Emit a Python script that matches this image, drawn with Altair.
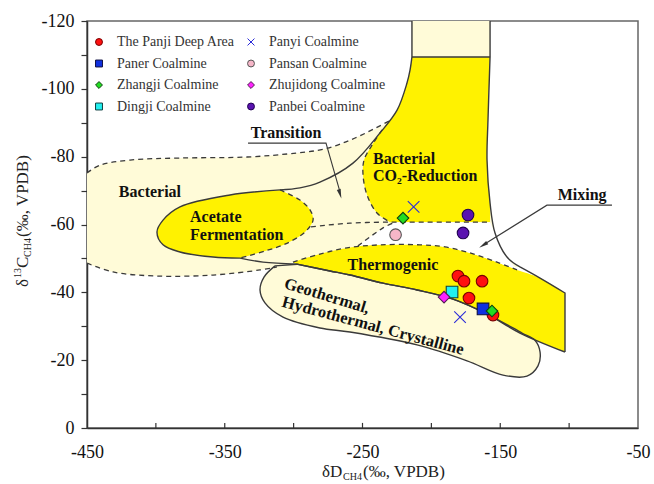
import altair as alt
import pandas as pd

# ---------------------------------------------------------------- axes
X_DOMAIN = [-450, -50]
Y_DOMAIN = [-120, 0]
X_TICKS = list(range(-450, -49, 50))
Y_TICKS = list(range(-120, 1, 10))
X_INNER_TICKS = list(range(-400, -99, 50))

# ---------------------------------------------------------------- samples (dD, d13C)
# legend fills column by column: left column first, then right column
SERIES = [
    "The Panji Deep Area", "Paner Coalmine", "Zhangji Coalmine", "Dingji Coalmine",
    "Panyi Coalmine", "Pansan Coalmine", "Zhujidong Coalmine", "Panbei Coalmine",
]
FILLS = ["#ff1010", "#1030e0", "#22dd22", "#22f0f0", "#2b2bd8", "#f6b6c8", "#ff22ff", "#5a12b0"]
STROKES = ["#7a0000", "#101040", "#104010", "#104040", "#2b2bd8", "#555555", "#502050", "#200050"]
SHAPES = ["circle", "square", "diamond", "square", "M-1,-1L1,1M1,-1L-1,1", "circle", "diamond", "circle"]

panji_dD = [-180.7, -176.3, -163.2, -172.7, -155.3]
panji_c13 = [-44.8, -43.3, -43.3, -38.3, -33.3]
paner_dD = [-162.5]
paner_c13 = [-35.1]
zhangji_dD = [-220.6, -156.0]
zhangji_c13 = [-61.9, -34.5]
dingji_dD = [-185.0]
dingji_c13 = [-40.1]
panyi_dD = [-212.9, -179.2]
panyi_c13 = [-65.2, -32.7]
pansan_dD = [-226.0]
pansan_c13 = [-57.0]
zhujidong_dD = [-190.8]
zhujidong_c13 = [-38.6]
panbei_dD = [-173.4, -177.0]
panbei_c13 = [-62.8, -57.5]

# ---------------------------------------------------------------- genetic fields (dD, d13C)
bacterial_top = [(-450, -75.2), (-440.6, -77.5), (-418.8, -79.0), (-382.5, -79.6), (-333.8, -79.9),
                 (-297.5, -81.1), (-277.2, -82.3), (-255.4, -85.5), (-230.8, -90.5)]
bacterial_bottom = [(-450, -48.6), (-431.1, -46.0), (-399.2, -44.8), (-358.5, -45.1),
                    (-324.4, -46.6), (-312.1, -47.5)]
upper_curve = [(-214.1, -120), (-214.1, -109.4), (-215.5, -105.5), (-217.7, -101.7), (-224.9, -93.7),
               (-237.3, -87.0), (-256.9, -78.1), (-280.9, -72.5), (-295.4, -70.8), (-309.9, -70.2)]
acetate_solid = [(-309.9, -70.2), (-346.2, -68.7), (-382.5, -65.2), (-394.8, -61.3), (-399.2, -57.8),
                 (-394.8, -54.0), (-382.5, -51.9), (-358.5, -50.4), (-338.9, -50.1)]
acetate_dashed = [(-309.9, -70.2), (-295.4, -67.2), (-288.1, -64.3), (-285.9, -61.3), (-291.7, -57.8),
                  (-306.3, -54.2), (-320.8, -52.2), (-338.9, -50.1)]
main_line = [(-338.9, -50.1), (-322.2, -48.9), (-297.5, -48.3), (-273.6, -46.3), (-259.1, -45.1),
             (-235.1, -42.7), (-210.4, -40.7), (-184.3, -38.0), (-159.6, -33.6), (-135.7, -28.0),
             (-103.0, -22.4)]
right_line = [(-157.4, -120), (-157.4, -109.4), (-158.9, -90.8), (-159.6, -79.0), (-157.4, -66.3),
              (-153.8, -57.5), (-145.1, -50.4), (-135.7, -47.5), (-121.1, -44.2), (-103.0, -39.8),
              (-103.0, -22.4)]
box_floor = [(-214.1, -109.4), (-157.4, -109.4)]
co2_left = [(-235.8, -87.9), (-243.1, -83.4), (-248.9, -79.0), (-249.6, -74.6), (-246.7, -68.7),
            (-239.5, -63.4), (-230.0, -60.7)]
transition_floor = [(-287.4, -59.3), (-259.1, -60.4), (-230.0, -60.7), (-157.4, -60.7)]
mixing_edge = [(-253.3, -53.7), (-235.1, -59.0), (-226.4, -60.7)]
thermo_top = [(-300.5, -48.9), (-280.9, -51.3), (-261.3, -53.1), (-237.3, -54.0), (-208.3, -54.0),
              (-190.1, -53.4), (-171.9, -51.6), (-152.4, -48.9), (-137.8, -46.6)]
geo_outline = [(-313.5, -47.8), (-321.5, -44.5), (-324.4, -40.7), (-320.8, -36.9), (-307.7, -32.7),
               (-280.9, -29.5), (-259.1, -28.3), (-210.4, -24.5), (-174.1, -19.8), (-148.0, -15.6),
               (-130.6, -15.3), (-122.6, -18.3), (-121.1, -22.4), (-124.8, -25.9), (-134.2, -28.0),
               (-159.6, -33.6), (-184.3, -38.0), (-210.4, -40.7), (-235.1, -42.7), (-259.1, -45.1),
               (-273.6, -46.3), (-297.5, -48.3), (-313.5, -47.8)]
mixing_band = [(-253.3, -53.7), (-235.1, -59.0), (-226.4, -60.7), (-157.4, -60.7), (-153.8, -57.5),
               (-145.1, -50.4), (-137.8, -46.6), (-152.4, -48.9), (-171.9, -51.6), (-190.1, -53.4),
               (-208.3, -54.0), (-237.3, -54.0), (-253.3, -53.7)]

# vertices where a boundary turns sharply instead of bending smoothly
corners = {(-450, -75.2), (-450, -48.6), (-214.1, -120), (-157.4, -120), (-214.1, -109.4),
           (-157.4, -109.4), (-157.4, -60.7), (-230.0, -60.7), (-226.4, -60.7), (-253.3, -53.7),
           (-137.8, -46.6), (-135.7, -47.5), (-300.5, -48.9), (-103.0, -39.8), (-103.0, -22.4),
           (-309.9, -70.2), (-338.9, -50.1), (-297.5, -48.3)}

transition_pointer = [(-333.1, -84.0), (-276.5, -84.0), (-266.6, -70.0)]
mixing_pointer = [(-68.9, -65.7), (-116.1, -65.7), (-161.0, -54.3)]
arrow_tips = [(-266.3, -69.0, 344), (-162.4, -53.9, 58)]

field_labels = [
    ("Transition", -305.5, -87.0, "center"),
    ("Bacterial", -404.3, -69.6, "center"),
    ("Acetate", -375.2, -62.2, "left"),
    ("Fermentation", -375.2, -56.9, "left"),
    ("Bacterial", -242.4, -79.3, "left"),
    ("CO\u2082-Reduction", -242.4, -74.3, "left"),
    ("Mixing", -90.6, -68.7, "center"),
    ("Thermogenic", -227.9, -48.1, "center"),
]
slanted_labels = [
    ("Geothermal,", -275.8, -38.9, 17),
    ("Hydrothermal, Crystalline", -242.4, -30.1, 15),
]

CREAM = "#fffbd8"
YELLOW = "#fff200"
LINE = "#3a3a3a"
SERIF = "Liberation Serif"
CURVE = "catmull-rom"

# ---------------------------------------------------------------- scales and axes
xs = alt.Scale(domain=X_DOMAIN, nice=False, zero=False)
ys = alt.Scale(domain=Y_DOMAIN, reverse=True, nice=False, zero=False)
x_axis = alt.Axis(values=X_TICKS, ticks=False, tickSize=0, grid=False, title=None,
                  labelExpr="(datum.value + 450) % 100 == 0 ? toString(datum.value) : ''",
                  labelPadding=15, labelFont=SERIF, labelFontSize=18, labelColor="#111",
                  domainColor="#333", domainWidth=1.5, labelFlush=False)
y_axis = alt.Axis(values=Y_TICKS, tickSize=6, tickColor="#333", tickWidth=1.2, grid=False, title=None,
                  labelExpr="datum.value % 20 == 0 ? toString(datum.value) : ''",
                  labelPadding=7, labelFont=SERIF, labelFontSize=18, labelColor="#111",
                  domainColor="#333", domainWidth=1.5)


def X(f="d"):
    return alt.X(f"{f}:Q", scale=xs, axis=x_axis, title=None)


def Y(f="c"):
    return alt.Y(f"{f}:Q", scale=ys, axis=y_axis, title=None)


def sharp(pts):
    """Repeat corner vertices so the smooth curve keeps a crisp angle there."""
    out = []
    for p in pts:
        out.append(p)
        if p in corners:
            out.append(p)
    return out


def path_df(segments):
    rows = []
    for name, pts in segments.items():
        for i, p in enumerate(sharp(pts)):
            rows.append({"seg": name, "i": i, "d": p[0], "c": p[1]})
    return pd.DataFrame(rows)


def fill_layer(pts, color):
    return alt.Chart(path_df({"a": pts})).mark_line(
        fill=color, strokeOpacity=0, interpolate=CURVE, clip=True
    ).encode(x=X(), y=Y(), order="i:Q")


def stroke_layer(segments, dashed, width=1.4, curve=CURVE):
    kw = dict(color=LINE, strokeWidth=width, interpolate=curve, clip=True)
    if dashed:
        kw["strokeDash"] = [5, 4]
    return alt.Chart(path_df(segments)).mark_line(**kw).encode(
        x=X(), y=Y(), detail="seg:N", order="i:Q")


# ---------------------------------------------------------------- filled fields
bacterial_area = (bacterial_top + [(-224.9, -93.7), (-217.7, -101.7), (-215.5, -105.5), (-214.1, -109.4),
                                   (-214.1, -120)] + right_line[:8]
                  + [(-300.5, -48.9)] + bacterial_bottom[::-1] + [bacterial_top[0]])
co2_area = ([(-214.1, -109.4), (-157.4, -109.4)] + right_line[2:5] + [(-157.4, -60.7)]
            + co2_left[::-1] + [(-224.9, -93.7), (-217.7, -101.7), (-215.5, -105.5), (-214.1, -109.4)])
acetate_area = acetate_solid + acetate_dashed[::-1]
thermo_area = thermo_top + right_line[8:] + main_line[::-1][1:-2] + [thermo_top[0]]

layers = [
    fill_layer(bacterial_area, CREAM),
    fill_layer(co2_area, YELLOW),
    fill_layer(acetate_area, YELLOW),
    fill_layer(thermo_area, YELLOW),
    fill_layer(mixing_band, "#ffffff"),
    fill_layer(geo_outline, CREAM),
    stroke_layer({"bt": bacterial_top, "bb": bacterial_bottom, "ad": acetate_dashed, "co2": co2_left,
                  "tf": transition_floor, "me": mixing_edge, "tt": thermo_top}, dashed=True, width=1.3),
    stroke_layer({"big": upper_curve + acetate_solid[1:] + main_line[1:], "right": right_line,
                  "box": box_floor, "geo": geo_outline}, dashed=False, width=1.4),
    stroke_layer({"tp": transition_pointer, "mp": mixing_pointer}, dashed=False, width=1.1,
                 curve="linear"),
]

# arrowheads of the two pointers
arrow_df = pd.DataFrame(arrow_tips, columns=["d", "c", "ang"])
layers.append(
    alt.Chart(arrow_df).mark_point(shape="M0,1L-0.42,-1L0.42,-1Z", filled=True, color="#333",
                                   size=90, opacity=1)
    .encode(x=X(), y=Y(), angle=alt.Angle("ang:Q", scale=None))
)

# inward ticks on the x axis
tick_df = pd.DataFrame({"d": X_INNER_TICKS, "c": [0] * len(X_INNER_TICKS),
                        "c2": [-1.5] * len(X_INNER_TICKS)})
layers.append(alt.Chart(tick_df).mark_rule(color="#333", strokeWidth=1.2)
              .encode(x=X(), y=Y(), y2="c2:Q"))

# field names
lab_df = pd.DataFrame(field_labels, columns=["t", "d", "c", "al"])
for al in ["left", "center"]:
    layers.append(
        alt.Chart(lab_df[lab_df.al == al]).mark_text(
            font=SERIF, fontWeight="bold", fontSize=16, color="#111", align=al, baseline="middle")
        .encode(x=X(), y=Y(), text="t:N"))
for t, d, c, ang in slanted_labels:
    layers.append(
        alt.Chart(pd.DataFrame({"t": [t], "d": [d], "c": [c]})).mark_text(
            font=SERIF, fontWeight="bold", fontSize=16.5, color="#111", align="center",
            baseline="middle", angle=ang)
        .encode(x=X(), y=Y(), text="t:N"))

# samples
rows = []
for name, dd, cc in [
    ("The Panji Deep Area", panji_dD, panji_c13), ("Panyi Coalmine", panyi_dD, panyi_c13),
    ("Pansan Coalmine", pansan_dD, pansan_c13), ("Panbei Coalmine", panbei_dD, panbei_c13),
    ("Dingji Coalmine", dingji_dD, dingji_c13), ("Zhujidong Coalmine", zhujidong_dD, zhujidong_c13),
    ("Paner Coalmine", paner_dD, paner_c13), ("Zhangji Coalmine", zhangji_dD, zhangji_c13),
]:
    for a, b in zip(dd, cc):
        rows.append({"series": name, "d": a, "c": b})
pts_df = pd.DataFrame(rows)
pts_df["k"] = range(len(pts_df))

legend = alt.Legend(orient="none", legendX=5, legendY=14, columns=2, title=None, padding=0,
                    labelFont=SERIF, labelFontSize=14, labelColor="#333", symbolSize=48,
                    symbolStrokeWidth=1, labelOffset=11, rowPadding=7.5, columnPadding=9)
layers.append(
    alt.Chart(pts_df).mark_point(filled=True, size=135, opacity=1, strokeWidth=1.1)
    .encode(
        x=X(), y=Y(), order="k:Q",
        fill=alt.Fill("series:N", scale=alt.Scale(domain=SERIES, range=FILLS), legend=legend),
        stroke=alt.Stroke("series:N", scale=alt.Scale(domain=SERIES, range=STROKES), legend=legend),
        shape=alt.Shape("series:N", scale=alt.Scale(domain=SERIES, range=SHAPES), legend=legend),
    )
)

# axis titles with sub/superscripts
one = pd.DataFrame({"z": [0]})


def title_piece(text, x, y, size, angle=0):
    kw = dict(text=text, font=SERIF, fontSize=size, color="#222", align="left", baseline="alphabetic")
    if angle:
        kw["angle"] = angle
    return alt.Chart(one).mark_text(**kw).encode(x=alt.value(x), y=alt.value(y))


# x title: plot area starts at (87, 21)
layers += [
    title_piece("\u03b4D", 322 - 87, 477 - 21, 17),
    title_piece("CH4", 343 - 87, 480 - 21, 10),
    title_piece("(\u2030, VPDB)", 363 - 87, 477 - 21, 17),
]
# y title, rotated to read upward
layers += [
    title_piece("\u03b4", 28 - 87, 287 - 21, 17, 270),
    title_piece("13", 21 - 87, 278 - 21, 10, 270),
    title_piece("C", 28 - 87, 268 - 21, 17, 270),
    title_piece("CH4", 31 - 87, 257 - 21, 10, 270),
    title_piece("(\u2030, VPDB)", 28 - 87, 237 - 21, 17, 270),
]

chart = alt.layer(*layers).properties(
    width=551, height=407,
    padding={"left": 87, "top": 21, "right": 16, "bottom": 56},
    autosize=alt.AutoSizeParams(type="none"),
).configure_view(stroke="#666", strokeWidth=1.5)

chart.save("out.html", embed_options={"renderer": "svg", "actions": False})
